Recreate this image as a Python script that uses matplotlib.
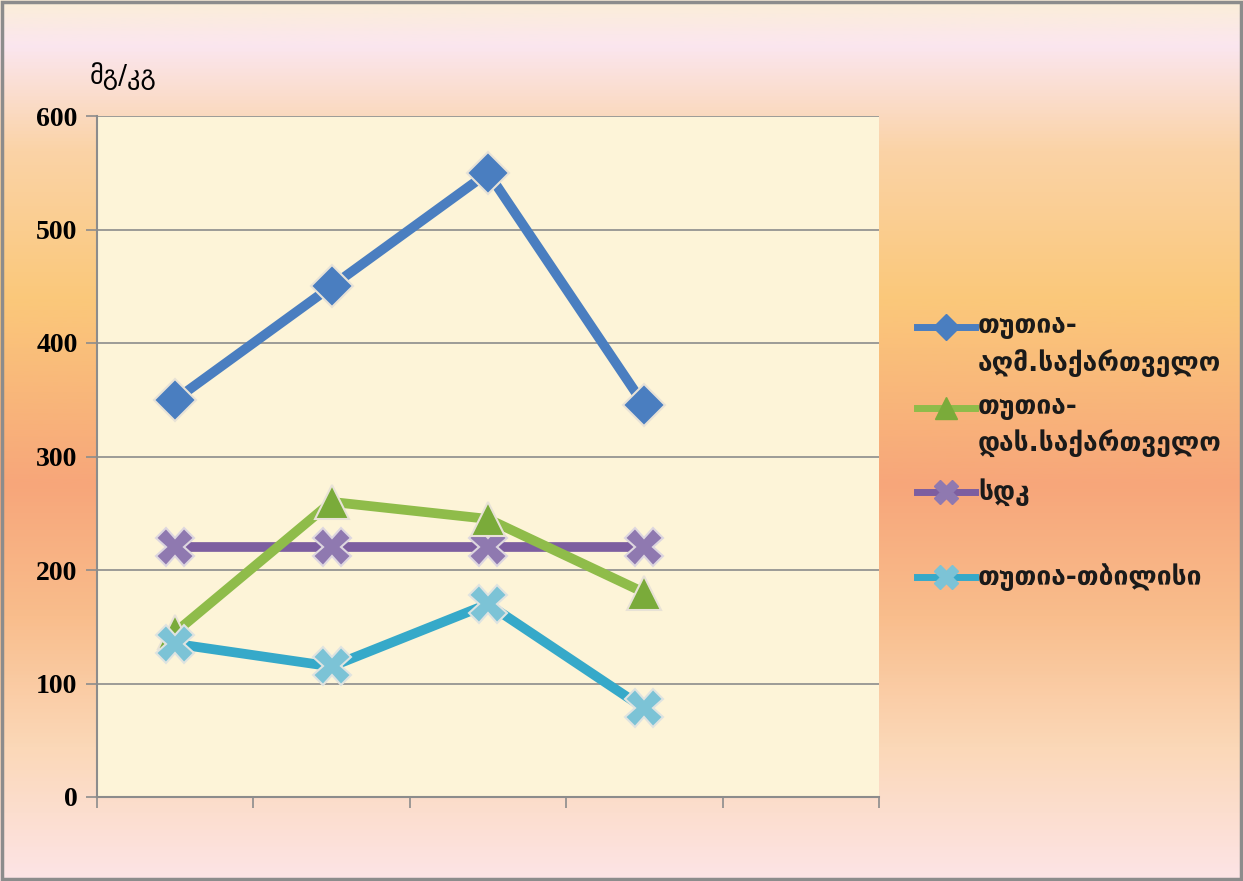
import numpy as np
import matplotlib
matplotlib.use("Agg")
import matplotlib.pyplot as plt
from matplotlib.colors import LinearSegmentedColormap
from matplotlib.lines import Line2D

# Data (mg/kg)
slots = [1, 2, 3, 4, 5]
zinc_east = [350, 450, 550, 345]
zinc_west = [145, 260, 245, 180]
mac_limit = [220, 220, 220, 220]
zinc_tbilisi = [135, 115, 170, 78]

labels = [
    "თუთია-\nაღმ.საქართველო",
    "თუთია-\nდას.საქართველო",
    "სდკ",
    "თუთია-თბილისი",
]
y_ticks = [0, 100, 200, 300, 400, 500, 600]

W, H = 1243, 881
fig = plt.figure(figsize=(W / 100, H / 100), dpi=100)

# Background gradient of the whole figure
bg = fig.add_axes([0, 0, 1, 1], zorder=-10)
stops = [
    (0.00, "#fbeed8"),
    (0.05, "#fbe6ef"),
    (0.17, "#fad3a6"),
    (0.34, "#fbc87a"),
    (0.55, "#f7a67a"),
    (0.70, "#f9bd8c"),
    (0.85, "#fbd8b8"),
    (1.00, "#fde4e6"),
]
cmap = LinearSegmentedColormap.from_list("bg", stops)
grad = np.linspace(0, 1, 512).reshape(-1, 1)
bg.imshow(grad, aspect="auto", cmap=cmap, extent=[0, 1, 0, 1], origin="upper")
bg.set_xlim(0, 1)
bg.set_ylim(0, 1)
bg.axis("off")
bg.add_patch(plt.Rectangle((0.002, 0.002), 0.996, 0.996, fill=False,
                           edgecolor="#8c8c8c", linewidth=2.5,
                           transform=bg.transAxes))

ax = fig.add_axes([97 / W, 1 - 797 / H, (879 - 97) / W, (797 - 116) / H])
ax.set_facecolor("#fdf4d8")

x = slots[:4]
styles = [
    dict(color="#4a7ec0", marker="D", markersize=21, markerfacecolor="#4a7ec0",
         markeredgecolor="#e8e2d6", zorder=5),
    dict(color="#8fbc4a", marker="^", markersize=25, markerfacecolor="#7aab3a",
         markeredgecolor="#e8e2d6", zorder=4),
    dict(color="#7d5ea0", marker="X", markersize=27, markerfacecolor="#8f79b0",
         markeredgecolor="#ddd6df", zorder=3),
    dict(color="#36a9c9", marker="X", markersize=27, markerfacecolor="#7cc3d6",
         markeredgecolor="#dfe3e0", zorder=6),
]
series = [zinc_east, zinc_west, mac_limit, zinc_tbilisi]

for values, style in zip(series, styles):
    ax.plot(x, values, linewidth=7, markeredgewidth=1.5, **style)

ax.set_xlim(0.5, 5.5)
ax.set_ylim(0, 600)
ax.set_yticks(y_ticks)
ax.set_yticklabels([str(v) for v in y_ticks], fontfamily="Liberation Serif",
                   fontweight="bold", fontsize=20)
ax.set_xticks([0.5, 1.5, 2.5, 3.5, 4.5, 5.5])
ax.set_xticklabels([])
ax.tick_params(axis="x", length=8, color="#8c8c8c", width=1.2)
ax.tick_params(axis="y", length=8, color="#8c8c8c", width=1.2, pad=6)
ax.grid(axis="y", color="#8c8c8c", linewidth=1.2)
ax.set_axisbelow(True)
for side in ["top", "right"]:
    ax.spines[side].set_visible(False)
for side in ["left", "bottom"]:
    ax.spines[side].set_color("#8c8c8c")
    ax.spines[side].set_linewidth(1.5)

fig.text(90 / W, 1 - 76 / H, "მგ/კგ", fontsize=19, fontfamily="DejaVu Sans",
         va="center", ha="left")

# Legend in Excel style: marker line beside the first text line
legend_rows = [327, 408, 492, 577]
for label, style, row in zip(labels, styles, legend_rows):
    yf = 1 - row / H
    handle = Line2D([917 / W, 975 / W], [yf, yf], transform=fig.transFigure,
                    color=style["color"], linewidth=5)
    fig.add_artist(handle)
    mark = Line2D([946 / W], [yf], transform=fig.transFigure,
                  marker=style["marker"], markersize=style["markersize"] * 0.62,
                  markerfacecolor=style["markerfacecolor"],
                  markeredgecolor=style["markerfacecolor"], linestyle="none")
    fig.add_artist(mark)
    fig.text(978 / W, yf, label, fontsize=19, fontfamily="DejaVu Sans",
             fontweight="bold", color="#1a1a1a", va="top", ha="left",
             linespacing=1.45, transform=fig.transFigure,
             ).set_y(yf + 14 / H)

fig.savefig("out.png", dpi=100)
